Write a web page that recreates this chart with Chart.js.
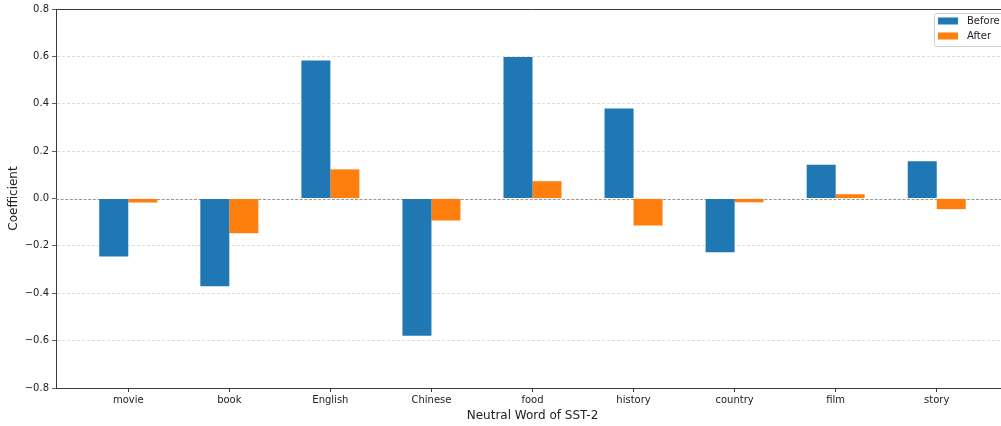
<!DOCTYPE html>
<html>
<head>
<meta charset="utf-8">
<script src="https://cdn.jsdelivr.net/npm/chart.js@4/dist/chart.umd.min.js"></script>
<style>
html,body{margin:0;padding:0;background:#fff;overflow:hidden;width:1001px;height:426px;}
#wrap{width:1012px;height:426px;}
</style>
</head>
<body>
<div id="wrap"><canvas id="c" width="1012" height="426"></canvas></div>
<script>
const categories = ["movie","book","English","Chinese","food","history","country","film","story"];
const beforeValues = [-0.245,-0.370,0.583,-0.579,0.597,0.380,-0.227,0.143,0.157];
const afterValues  = [-0.017,-0.147,0.123,-0.093,0.073,-0.114,-0.016,0.018,-0.045];
const yTicks = [-0.8,-0.6,-0.4,-0.2,0.0,0.2,0.4,0.6,0.8];
const seriesNames = ["Before","After"];
const seriesColors = ["#1f77b4","#ff7f0e"];

const FONT = "'DejaVu Sans', sans-serif";
const fmt = v => { const s = Math.abs(v).toFixed(1); return (v < -1e-9 ? "\u2212" : "") + s; };

const framePlugin = {
  id: 'frame',
  beforeDatasetsDraw(chart) {
    const {ctx, chartArea: a, scales} = chart;
    const y0 = scales.y.getPixelForValue(0);
    ctx.save();
    ctx.strokeStyle = '#8c8c8c';
    ctx.lineWidth = 0.9;
    ctx.setLineDash([3, 1.6]);
    ctx.beginPath();
    ctx.moveTo(a.left, Math.round(y0) + 0.5);
    ctx.lineTo(a.right, Math.round(y0) + 0.5);
    ctx.stroke();
    ctx.restore();
  },
  afterDraw(chart) {
    const {ctx, chartArea: a} = chart;
    ctx.save();
    ctx.strokeStyle = '#3a3a3a';
    ctx.lineWidth = 1;
    ctx.beginPath();
    ctx.moveTo(a.left, a.top + 0.5);
    ctx.lineTo(a.right, a.top + 0.5);
    ctx.moveTo(a.right - 0.5, a.top);
    ctx.lineTo(a.right - 0.5, a.bottom);
    ctx.stroke();
    // legend
    const bx = 934, by = 13, bw = 70, bh = 33;
    ctx.fillStyle = 'rgba(255,255,255,0.8)';
    ctx.strokeStyle = '#d0d0d0';
    ctx.lineWidth = 1;
    ctx.beginPath();
    if (ctx.roundRect) ctx.roundRect(bx + 0.5, by + 0.5, bw, bh, 2); else ctx.rect(bx + 0.5, by + 0.5, bw, bh);
    ctx.fill();
    ctx.stroke();
    ctx.font = '10px ' + FONT;
    ctx.textBaseline = 'middle';
    ctx.textAlign = 'left';
    chart.data.datasets.forEach((ds, i) => {
      const cy = by + 8 + i * 15;
      ctx.fillStyle = ds.backgroundColor;
      ctx.fillRect(bx + 4, cy - 3.5, 20, 7);
      ctx.fillStyle = '#222';
      ctx.fillText(ds.label, bx + 33, cy + 0.5);
    });
    ctx.restore();
  }
};

new Chart(document.getElementById('c'), {
  type: 'bar',
  data: {
    datasets: seriesNames.map((name, s) => ({
      label: name,
      data: (s === 0 ? beforeValues : afterValues).map((v, i) => ({x: i, y: v})),
      backgroundColor: seriesColors[s],
      borderWidth: 0,
      categoryPercentage: 0.574,
      barPercentage: 1.0
    }))
  },
  options: {
    responsive: false,
    animation: false,
    layout: {padding: {left: 0, right: 3, top: 8, bottom: 0}},
    plugins: {legend: {display: false}, tooltip: {enabled: false}},
    scales: {
      x: {
        type: 'linear',
        offset: false,
        min: -0.715,
        max: 8.715,
        afterBuildTicks(scale) { scale.ticks = categories.map((c, i) => ({value: i})); },
        afterFit(scale) { scale.height = 38; },
        ticks: {
          autoSkip: false,
          maxRotation: 0,
          padding: 2,
          color: '#222',
          font: {family: FONT, size: 10},
          callback: (v) => categories[v] !== undefined ? categories[v] : ''
        },
        grid: {offset: false, drawOnChartArea: false, drawTicks: true, tickLength: 4, tickColor: '#3a3a3a', tickWidth: 1},
        border: {display: true, color: '#3a3a3a', width: 1},
        title: {display: true, text: 'Neutral Word of SST-2', color: '#222', font: {family: FONT, size: 12}, padding: {top: 0, bottom: 3}}
      },
      y: {
        min: -0.8,
        max: 0.8,
        afterBuildTicks(scale) { scale.ticks = yTicks.map(v => ({value: v})); },
        afterFit(scale) { scale.width = 56; },
        ticks: {
          padding: 3,
          color: '#222',
          font: {family: FONT, size: 10},
          callback: (v) => fmt(v)
        },
        grid: {
          drawOnChartArea: true,
          drawTicks: true,
          tickLength: 4,
          tickColor: '#3a3a3a',
          lineWidth: 0.8,
          color: (ctx) => {
            const v = ctx.tick ? ctx.tick.value : null;
            if (v === null) return 'rgba(0,0,0,0)';
            if (Math.abs(v) < 1e-9 || Math.abs(Math.abs(v) - 0.8) < 1e-9) return 'rgba(0,0,0,0)';
            return '#d3d3d3';
          }
        },
        border: {display: true, color: '#3a3a3a', width: 1, dash: [3, 2]},
        title: {display: true, text: 'Coefficient', color: '#222', font: {family: FONT, size: 12}, padding: {top: 7, bottom: 2}}
      }
    }
  },
  plugins: [framePlugin]
});
</script>
</body>
</html>
